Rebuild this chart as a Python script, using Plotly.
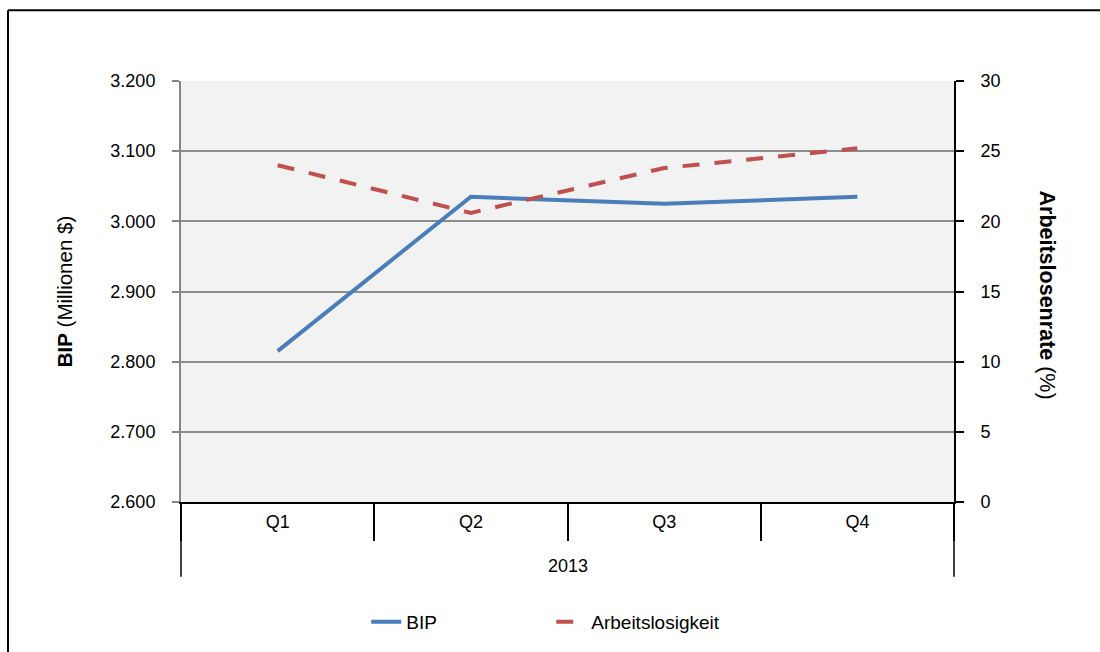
import plotly.graph_objects as go

# Quarterly data for 2013
year_label = "2013"
quarters = ["Q1", "Q2", "Q3", "Q4"]
bip = [2815, 3035, 3025, 3035]            # BIP in Millionen $
arbeitslosigkeit = [24.0, 20.6, 23.8, 25.2]  # Arbeitslosenrate in %

W, H = 1100, 652
ML, MR, MT, MB = 181, 146, 81, 149
PW, PH = W - ML - MR, H - MT - MB


def px_x(px):
    return (px - ML) / PW


def px_y(py):
    return (H - MB - py) / PH


font = "Liberation Sans, Arial, sans-serif"

fig = go.Figure()
fig.add_trace(go.Scatter(
    x=quarters, y=bip, name="BIP", mode="lines",
    line=dict(color="#4a7ebb", width=4),
    yaxis="y",
))
fig.add_trace(go.Scatter(
    x=quarters, y=arbeitslosigkeit, name="Arbeitslosigkeit", mode="lines",
    line=dict(color="#c0504d", width=4, dash="17px,15px"),
    yaxis="y2",
))

fig.update_layout(
    width=W, height=H,
    margin=dict(l=ML, r=MR, t=MT, b=MB),
    paper_bgcolor="white",
    plot_bgcolor="#f2f2f2",
    separators=",.",
    font=dict(family=font, size=18, color="black"),
    showlegend=True,
    legend=dict(orientation="h", x=0.479, xanchor="center", y=px_y(622), yanchor="middle",
                font=dict(size=19), entrywidth=140),
    xaxis=dict(
        type="category",
        range=[-0.5, 3.5],
        showline=True, linecolor="black", linewidth=2,
        ticks="outside", ticklen=37, tickcolor="black", tickwidth=1.5,
        tickson="boundaries",
        showgrid=False,
        tickfont=dict(size=18),
        ticklabelstandoff=2,
    ),
    yaxis=dict(
        range=[2600, 3200], dtick=100, tickformat=",.0f",
        showline=True, linecolor="#868686", linewidth=2,
        ticks="outside", ticklen=7, tickcolor="#868686", tickwidth=1.5,
        showgrid=True, gridcolor="#8c8c8c", gridwidth=1.5,
        zeroline=False,
        tickfont=dict(size=18),
        ticklabelstandoff=13,
        title=dict(text="<b>BIP</b> (Millionen $)", font=dict(size=20.5), standoff=32),
    ),
    yaxis2=dict(
        range=[0, 30], dtick=5, overlaying="y", side="right",
        showline=True, linecolor="black", linewidth=2,
        ticks="outside", ticklen=8, tickcolor="black", tickwidth=1.5,
        showgrid=False, zeroline=False,
        tickfont=dict(size=18),
        ticklabelstandoff=13,
    ),
    annotations=[
        dict(text="<b>Arbeitslosenrate</b> (%)", textangle=90,
             xref="paper", yref="paper", x=px_x(1047), y=px_y(295),
             xanchor="center", yanchor="middle", showarrow=False,
             font=dict(size=21.5)),
        # outer category level under the quarter labels
        dict(text=year_label, xref="paper", yref="paper", x=0.5, y=px_y(567),
             xanchor="center", yanchor="middle", showarrow=False,
             font=dict(size=18)),
    ],
    shapes=[
        # dividers enclosing the year group
        dict(type="line", xref="paper", yref="paper",
             x0=0, x1=0, y0=0, y1=px_y(578),
             line=dict(color="black", width=1.5)),
        dict(type="line", xref="paper", yref="paper",
             x0=1, x1=1, y0=0, y1=px_y(578),
             line=dict(color="black", width=1.5)),
        # chart frame
        dict(type="line", xref="paper", yref="paper",
             x0=px_x(8), x1=px_x(W + 5), y0=px_y(10), y1=px_y(10),
             line=dict(color="black", width=2)),
        dict(type="line", xref="paper", yref="paper",
             x0=px_x(8), x1=px_x(8), y0=px_y(10), y1=px_y(H + 5),
             line=dict(color="black", width=2)),
    ],
)

fig.write_html("out.html")
